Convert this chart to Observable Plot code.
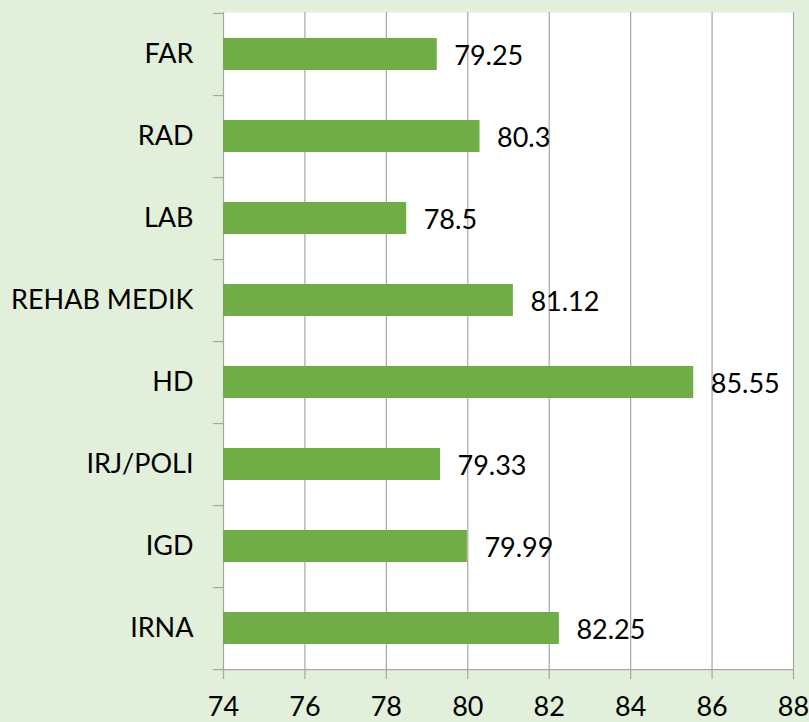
<!DOCTYPE html>
<html>
<head>
<meta charset="utf-8">
<script src="https://cdn.jsdelivr.net/npm/d3@7"></script>
<script src="https://cdn.jsdelivr.net/npm/@observablehq/plot@0.6"></script>
<style>
  html, body { margin: 0; padding: 0; background: #e2efda; }
  #chart { width: 809px; height: 722px; }
</style>
</head>
<body>
<div id="chart"></div>
<script>
const categories = ["FAR", "RAD", "LAB", "REHAB MEDIK", "HD", "IRJ/POLI", "IGD", "IRNA"];
const values = [79.25, 80.3, 78.5, 81.12, 85.55, 79.33, 79.99, 82.25];
const xTicks = [74, 76, 78, 80, 82, 84, 86, 88];

const data = categories.map((c, i) => ({category: c, value: values[i]}));

const W = 809, H = 722;
const mL = 223, mR = 16, mT = 12, mB = 53;
const band = (H - mT - mB) / categories.length;
const grid = "#a6a6a6";
const font = "Lato, 'Open Sans', sans-serif";

const chart = Plot.plot({
  width: W,
  height: H,
  marginLeft: mL,
  marginRight: mR,
  marginTop: mT,
  marginBottom: mB,
  style: {background: "transparent", fontFamily: font, fontSize: "27px", color: "#000"},
  x: {domain: [74, 88], ticks: xTicks},
  y: {domain: categories, paddingInner: 0, paddingOuter: 0},
  marks: [
    Plot.frame({fill: "white", stroke: null}),
    Plot.ruleX(xTicks, {stroke: grid, strokeWidth: 1.2, insetBottom: -10}),
    Plot.ruleY([categories[0]], {y: d => d, x1: 74, x2: 74, dy: -band / 2, insetLeft: -10, stroke: grid, strokeWidth: 1.2}),
    Plot.ruleY(categories.slice(0, -1), {y: d => d, x1: 74, x2: 74, dy: band / 2, insetLeft: -10, stroke: grid, strokeWidth: 1.2}),
    Plot.ruleY([categories[categories.length - 1]], {y: d => d, x1: 74, x2: 88, dy: band / 2, insetLeft: -10, stroke: grid, strokeWidth: 1.2}),
    Plot.barX(data, {y: "category", x1: 74, x2: "value", fill: "#70ad47", insetTop: 25, insetBottom: 25}),
    Plot.text(data, {y: "category", x: "value", text: d => String(d.value), dx: 17, dy: 2, textAnchor: "start", fill: "#000", fontSize: 27}),
    Plot.axisY({tickSize: 0, tickPadding: 30, fontSize: 27, fill: "#000", label: null}),
    Plot.axisX({ticks: xTicks, tickSize: 0, tickPadding: 27, fontSize: 27, fill: "#000", label: null})
  ]
});
document.getElementById("chart").appendChild(chart);
</script>
</body>
</html>
